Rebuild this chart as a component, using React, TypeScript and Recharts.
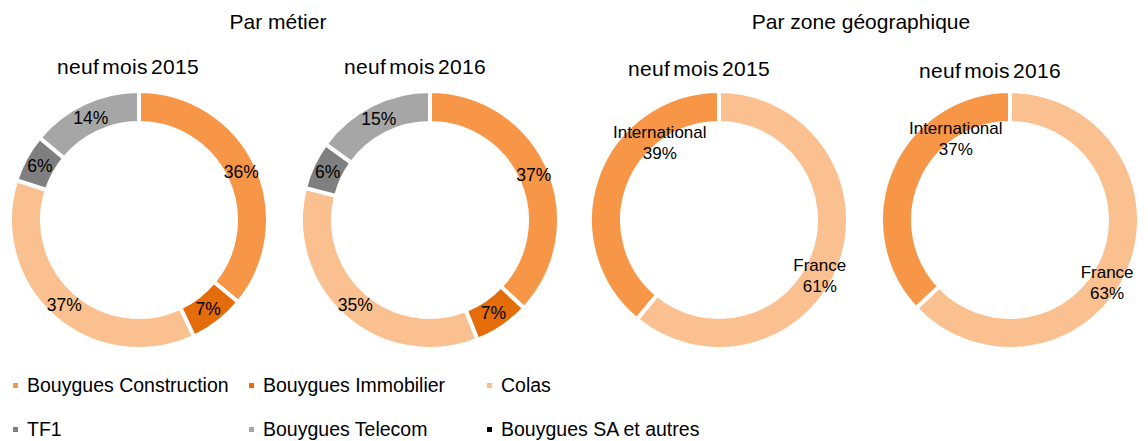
import { PieChart, Pie, Cell } from "recharts";

const metierCategories = [
  "Bouygues Construction",
  "Bouygues Immobilier",
  "Colas",
  "TF1",
  "Bouygues Telecom",
  "Bouygues SA et autres",
];
const metier2015 = [36, 7, 37, 6, 14, 0];
const metier2016 = [37, 7, 35, 6, 15, 0];

const zoneCategories = ["France", "International"];
const zone2015 = [61, 39];
const zone2016 = [63, 37];

const metierColors = ["#F79646", "#E46C0A", "#FAC090", "#7F7F7F", "#A6A6A6", "#000000"];
const zoneColors = ["#FAC090", "#F79646"];

// where Excel put the geo labels: degrees past the slice middle, and radius
const zoneLabelPos: Record<string, { shift: number; r: number }> = {
  France: { shift: 9, r: 115 },
  International: { shift: 33, r: 98 },
};

const RAD = Math.PI / 180;
const FONT = "'Liberation Sans', Arial, sans-serif";
const INNER = 97;
const OUTER = 129;

const toRows = (names: string[], values: number[]) =>
  names.map((name, i) => ({ name, value: values[i], color: i })).filter((d) => d.value > 0);

const metierLabel = (p: any) => {
  const r = (p.innerRadius + p.outerRadius) / 2;
  const x = p.cx + r * Math.cos(-p.midAngle * RAD);
  const y = p.cy + r * Math.sin(-p.midAngle * RAD);
  return (
    <text x={x} y={y} textAnchor="middle" dominantBaseline="central" fontSize={17.5} fill="#000" fontFamily={FONT}>
      {`${p.value}%`}
    </text>
  );
};

const zoneLabel = (p: any) => {
  const pos = zoneLabelPos[p.name];
  const a = p.midAngle - pos.shift;
  const x = p.cx + pos.r * Math.cos(-a * RAD);
  const y = p.cy + pos.r * Math.sin(-a * RAD);
  return (
    <text x={x} y={y} textAnchor="middle" fontSize={17} fill="#000" fontFamily={FONT}>
      <tspan x={x} dy={-4}>{p.name}</tspan>
      <tspan x={x} dy={21}>{`${p.value}%`}</tspan>
    </text>
  );
};

const donuts = [
  { cx: 139, title: "neuf mois 2015", titleX: 128, titleY: 55, rows: toRows(metierCategories, metier2015), colors: metierColors, label: metierLabel },
  { cx: 430, title: "neuf mois 2016", titleX: 415, titleY: 55, rows: toRows(metierCategories, metier2016), colors: metierColors, label: metierLabel },
  { cx: 719, title: "neuf mois 2015", titleX: 699, titleY: 57, rows: toRows(zoneCategories, zone2015), colors: zoneColors, label: zoneLabel },
  { cx: 1010, title: "neuf mois 2016", titleX: 990, titleY: 59, rows: toRows(zoneCategories, zone2016), colors: zoneColors, label: zoneLabel },
];

const legendCols = [13, 249, 487];

export default function App() {
  return (
    <div
      style={{
        position: "absolute",
        left: 0,
        top: 0,
        width: 1148,
        height: 441,
        background: "#fff",
        fontFamily: FONT,
        color: "#000",
      }}
    >
      <div style={{ position: "absolute", left: 178, width: 200, top: 10, textAlign: "center", fontSize: 21 }}>
        Par métier
      </div>
      <div style={{ position: "absolute", left: 711, width: 300, top: 10, textAlign: "center", fontSize: 21 }}>
        Par zone géographique
      </div>
      {donuts.map((d, i) => (
        <div
          key={i}
          style={{
            position: "absolute",
            left: d.titleX - 100,
            width: 200,
            top: d.titleY,
            textAlign: "center",
            fontSize: 21,
            wordSpacing: -3,
            letterSpacing: 0.3,
          }}
        >
          {d.title}
        </div>
      ))}

      <div style={{ position: "absolute", left: 0, top: 0 }}>
        <PieChart width={1148} height={441} margin={{ top: 0, right: 0, bottom: 0, left: 0 }}>
          {donuts.map((d, i) => (
            <Pie
              key={i}
              data={d.rows}
              dataKey="value"
              nameKey="name"
              cx={d.cx}
              cy={220}
              innerRadius={INNER}
              outerRadius={OUTER}
              startAngle={90}
              endAngle={-270}
              stroke="#fff"
              strokeWidth={4}
              label={d.label}
              labelLine={false}
              isAnimationActive={false}
            >
              {d.rows.map((r) => (
                <Cell key={r.name} fill={d.colors[r.color]} />
              ))}
            </Pie>
          ))}
        </PieChart>
      </div>

      {metierCategories.map((name, i) => {
        const col = i % 3;
        const row = Math.floor(i / 3);
        return (
          <div
            key={name}
            style={{
              position: "absolute",
              left: legendCols[col],
              top: 374 + row * 44,
              fontSize: 19.5,
              display: "flex",
              alignItems: "center",
              whiteSpace: "nowrap",
            }}
          >
            <span style={{ display: "inline-block", width: 5, height: 5, background: metierColors[i], marginRight: 9 }} />
            {name}
          </div>
        );
      })}
    </div>
  );
}
